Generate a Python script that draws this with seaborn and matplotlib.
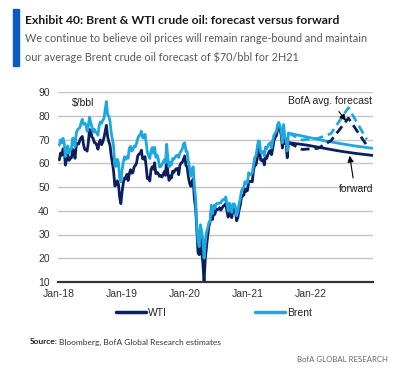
import pandas as pd
import numpy as np
import matplotlib
matplotlib.use('Agg')
import matplotlib.pyplot as plt
import matplotlib.dates as mdates
import seaborn as sns

# weekly closes (Fridays), $/bbl
brent_2018 = [67.6, 69.9, 68.6, 70.5,
              68.6, 62.8, 64.8, 67.3,
              64.4, 65.5, 66.2, 70.5, 70.3,
              67.1, 72.6, 74.1, 74.6,
              74.9, 77.1, 78.5, 76.4,
              76.8, 76.5, 73.4, 75.6, 79.4,
              77.1, 75.3, 73.1, 74.3,
              73.2, 72.8, 71.8, 75.8, 77.4,
              76.8, 78.1, 78.8, 82.7,
              86.0, 80.4, 79.8, 77.6,
              72.8, 70.2, 67.0, 58.8, 58.7,
              61.7, 60.3, 53.8, 52.2]
wti_2018 = [61.4, 64.3, 63.4, 66.1,
            65.5, 59.2, 61.7, 63.6,
            61.2, 62.0, 62.3, 65.9, 64.9,
            62.1, 67.4, 68.4, 68.1,
            69.7, 70.7, 71.3, 67.9,
            65.8, 65.7, 65.1, 68.6, 74.2,
            73.8, 71.0, 70.5, 68.7,
            68.5, 67.6, 65.9, 68.7, 69.8,
            67.8, 68.9, 70.8, 73.3,
            76.0, 71.3, 69.1, 67.6,
            63.1, 60.2, 56.5, 50.4, 50.9,
            52.6, 51.2, 45.6, 43.0]
brent_2019 = [57.1, 60.5, 62.7, 61.6,
              62.8, 62.1, 66.3, 67.1,
              65.1, 65.7, 67.2, 67.0, 68.4,
              70.3, 71.6, 71.9, 73.5,
              70.9, 70.6, 72.2, 68.7, 64.5,
              63.3, 62.0, 65.2, 66.6,
              64.2, 66.7, 62.5, 63.5,
              61.9, 58.5, 58.6, 59.3, 60.4,
              61.5, 60.2, 68.0, 61.9,
              58.4, 60.5, 59.4, 62.0,
              61.7, 62.5, 63.3, 63.4, 62.4,
              64.4, 65.2, 66.1, 68.2]
wti_2019 = [47.9, 51.6, 53.8, 53.7,
            55.3, 52.7, 55.6, 57.3,
            55.8, 56.1, 58.5, 59.0, 60.1,
            63.1, 63.9, 64.0, 65.5,
            61.9, 61.7, 62.8, 58.6, 53.5,
            54.0, 52.5, 57.4, 58.5,
            57.5, 60.2, 55.6, 56.2,
            55.7, 54.5, 54.9, 54.2, 55.1,
            56.5, 54.9, 62.0, 55.9,
            52.8, 54.7, 53.8, 56.7,
            56.2, 57.2, 57.7, 57.8, 55.2,
            59.2, 60.1, 60.4, 61.7]
brent_2020 = [68.6, 65.0, 64.9, 60.7, 58.2,
              54.5, 57.3, 58.5, 50.5,
              45.3, 33.9, 27.0, 24.9,
              34.1, 31.5, 28.1, 20.0,
              26.4, 31.0, 32.5, 35.1, 35.3,
              42.3, 38.7, 42.2, 41.0,
              42.8, 43.2, 43.1, 43.3, 43.3,
              44.4, 44.8, 44.4, 45.8,
              42.7, 39.8, 43.2, 41.9,
              39.3, 42.9, 42.9, 41.8, 37.9,
              39.5, 42.8, 45.0, 48.2,
              49.3, 50.0, 52.3, 51.3]
wti_2020 = [63.1, 59.0, 58.5, 54.2, 51.6,
            50.3, 52.1, 53.4, 44.8,
            41.3, 31.7, 22.4, 21.5,
            28.3, 22.8, 18.3, 10.0,
            19.8, 24.7, 29.4, 33.3, 35.5,
            39.6, 36.3, 39.8, 38.5,
            40.7, 40.6, 40.6, 41.3, 40.3,
            41.2, 42.0, 42.3, 43.0,
            39.8, 37.3, 41.1, 40.3,
            37.1, 40.6, 40.9, 39.9, 35.8,
            37.1, 40.1, 42.2, 45.5,
            46.3, 46.6, 49.1, 48.2]
brent_2021 = [51.8, 56.0, 55.1, 55.4, 55.9,
              59.3, 62.4, 62.9, 66.1,
              69.4, 69.2, 64.5, 64.6,
              64.9, 63.0, 66.8, 66.1, 67.3,
              68.3, 68.7, 66.4, 69.6,
              71.9, 72.7, 73.5, 76.2,
              77.2, 75.6, 73.6, 68.6, 76.3,
              70.7, 70.6, 65.2, 72.7]
wti_2021 = [48.5, 52.2, 52.4, 52.3, 52.2,
            56.9, 59.5, 59.2, 61.5,
            66.1, 65.6, 61.4, 61.0,
            61.5, 59.3, 63.1, 62.1, 63.6,
            64.9, 65.4, 63.6, 66.3,
            69.6, 70.9, 71.6, 74.1,
            75.8, 74.6, 71.8, 66.4, 74.0,
            68.3, 68.4, 62.3, 68.7]

# forward curves
fwd_dates = ['2021-08-27', '2021-12-15', '2022-03-15', '2022-06-15', '2022-09-15', '2022-12-28']
brent_fwd = [72.7, 71.0, 69.6, 68.4, 67.3, 66.3]
wti_fwd = [68.7, 67.6, 66.4, 65.2, 64.2, 63.3]

# BofA average forecast
fc_dates = ['2021-08-27', '2021-11-15', '2022-02-15', '2022-05-01', '2022-08-10', '2022-11-25']
brent_fc = [72.7, 69.8, 70.5, 72.5, 83.4, 70.0]
wti_fc = [68.7, 65.8, 66.3, 69.5, 79.0, 67.5]

year_ticks = ['2018-01-01', '2019-01-01', '2020-01-01', '2021-01-01', '2022-01-01']

WTI_C = '#0b1f5e'
BRENT_C = '#1ea8e0'

hist_dates = pd.date_range('2018-01-05', '2021-08-27', freq='W-FRI')
hist = pd.DataFrame({
    'date': np.concatenate([hist_dates, hist_dates]),
    'price': brent_2018 + brent_2019 + brent_2020 + brent_2021 + wti_2018 + wti_2019 + wti_2020 + wti_2021,
    'series': ['Brent'] * len(hist_dates) + ['WTI'] * len(hist_dates),
})
fwd = pd.DataFrame({'date': pd.to_datetime(fwd_dates * 2), 'price': brent_fwd + wti_fwd,
                    'series': ['Brent'] * 6 + ['WTI'] * 6})
fc = pd.DataFrame({'date': pd.to_datetime(fc_dates * 2), 'price': brent_fc + wti_fc,
                   'series': ['Brent'] * 6 + ['WTI'] * 6})

sns.set_style('white')
plt.rcParams['font.family'] = ['Liberation Sans', 'DejaVu Sans']

fig = plt.figure(figsize=(4.07, 3.78), dpi=100)
ax = fig.add_axes([58 / 407, 1 - 282 / 378, (373 - 58) / 407, (282 - 92) / 378])

pal = {'WTI': WTI_C, 'Brent': BRENT_C}
sns.lineplot(data=fwd, x='date', y='price', hue='series', palette=pal, lw=2.0, ax=ax, legend=False)
sns.lineplot(data=fc[fc.series == 'Brent'], x='date', y='price', color=BRENT_C, lw=2.0,
             dashes=(3.2, 1.8), ax=ax, legend=False)
sns.lineplot(data=fc[fc.series == 'WTI'], x='date', y='price', color=WTI_C, lw=2.0,
             dashes=(3.2, 1.8), ax=ax, legend=False)
sns.lineplot(data=hist, x='date', y='price', hue='series', hue_order=['WTI', 'Brent'],
             palette=pal, lw=2.0, ax=ax, legend=False)

ax.set_ylim(10, 90)
ax.set_xlim(pd.Timestamp('2017-12-28'), pd.Timestamp('2022-12-31'))
ax.set_yticks(range(10, 91, 10))
ax.set_xticks(pd.to_datetime(year_ticks))
ax.xaxis.set_major_formatter(mdates.DateFormatter('%b-%y'))
ax.yaxis.grid(True, color='#c4c4c4', lw=1)
ax.set_axisbelow(True)
ax.tick_params(length=0, labelsize=7.5, labelcolor='#333333')
ax.tick_params(axis='x', pad=5)
ax.tick_params(axis='y', pad=6)
for s in ['top', 'right', 'left']:
    ax.spines[s].set_visible(False)
ax.spines['bottom'].set_color('#333333')
ax.spines['bottom'].set_linewidth(1.6)
ax.set_xlabel('')
ax.set_ylabel('')

ax.text(pd.Timestamp('2018-03-17'), 85.4, '$/bbl', fontsize=7.5, color='#222222', va='center')

ax.annotate('BofA avg. forecast', xy=(pd.Timestamp('2022-08-05'), 77.0),
            xytext=(pd.Timestamp('2022-12-28'), 86.2), ha='right', va='center',
            fontsize=7.5, color='#222222',
            arrowprops=dict(arrowstyle='-|>', color='black', lw=0.8, mutation_scale=9,
                            relpos=(0.55, 0.0)))
ax.annotate('forward', xy=(pd.Timestamp('2022-08-15'), 64.3),
            xytext=(pd.Timestamp('2022-12-31'), 49.2), ha='right', va='center',
            fontsize=7.5, color='#222222',
            arrowprops=dict(arrowstyle='-|>', color='black', lw=0.8, mutation_scale=9,
                            relpos=(0.45, 1.0)))

handles = [plt.Line2D([], [], color=WTI_C, lw=2.5), plt.Line2D([], [], color=BRENT_C, lw=2.5)]
fig.legend(handles, ['WTI', 'Brent'], loc='center', bbox_to_anchor=(214 / 407, 1 - 313 / 378),
           ncol=2, frameon=False, fontsize=7.5, handlelength=2.9, handletextpad=0.15,
           columnspacing=8.5, labelcolor='#222222')

# header
fig.patches.append(plt.Rectangle((13 / 407, 1 - 66 / 378), 6 / 407, 57 / 378,
                                 transform=fig.transFigure, color='#0a5bc4', zorder=5))
fig.text(25 / 407, 1 - 20 / 378, 'Exhibit 40: Brent & WTI crude oil: forecast versus forward',
         fontsize=8.7, fontweight='bold', family=['Lato', 'DejaVu Sans'], color='#1a1a1a', va='center')
fig.text(25 / 407, 1 - 39 / 378, 'We continue to believe oil prices will remain range-bound and maintain',
         fontsize=7.85, family=['Lato', 'DejaVu Sans'], color='#595959', va='center')
fig.text(25 / 407, 1 - 57 / 378, 'our average Brent crude oil forecast of $70/bbl for 2H21',
         fontsize=7.85, family=['Lato', 'DejaVu Sans'], color='#595959', va='center')

# footer
fig.text(30 / 407, 1 - 342 / 378, 'Source:', fontsize=6.0, fontweight='bold',
         family=['Lato', 'DejaVu Sans'], color='#222222', va='center')
fig.text(59 / 407, 1 - 342 / 378, 'Bloomberg, BofA Global Research estimates', fontsize=6.0,
         family=['Lato', 'DejaVu Sans'], color='#333333', va='center')
fig.text(388 / 407, 1 - 359 / 378, 'BofA GLOBAL RESEARCH', fontsize=5.6, ha='right',
         family=['Lato', 'DejaVu Sans'], color='#666666', va='center')

fig.savefig('out.png', dpi=100, facecolor='white')
